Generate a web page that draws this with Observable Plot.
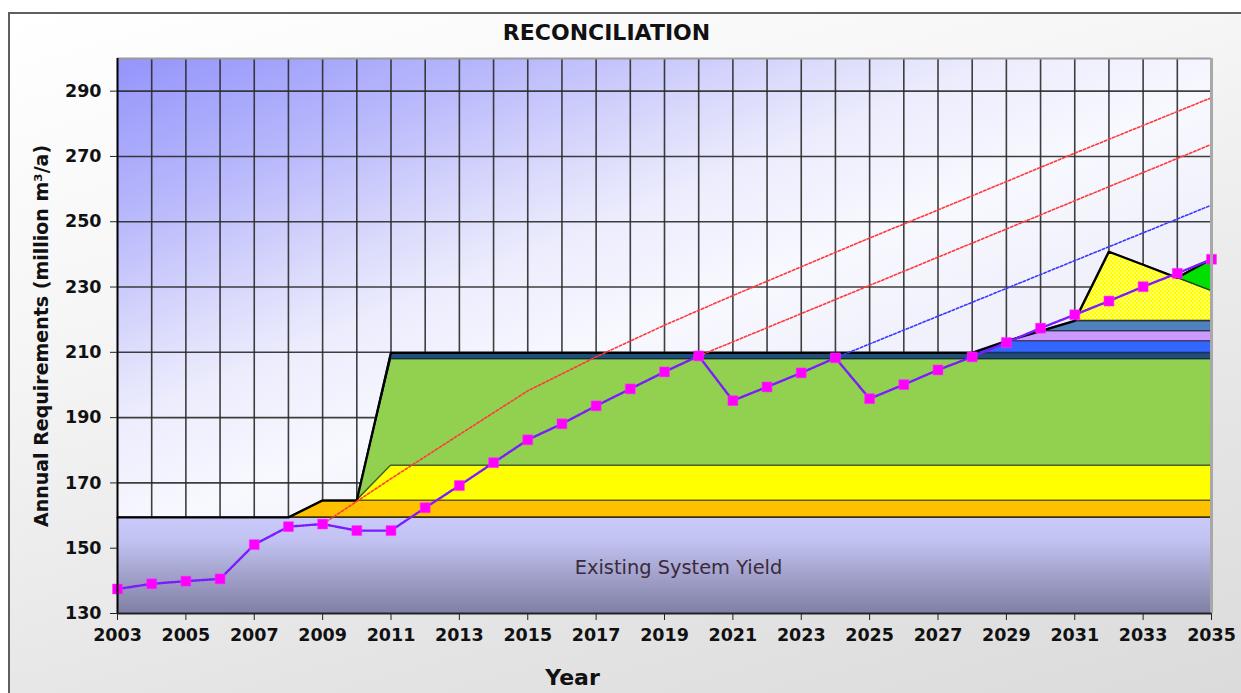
<!DOCTYPE html>
<html><head><meta charset="utf-8">
<script src="https://cdn.jsdelivr.net/npm/d3@7"></script>
<script src="https://cdn.jsdelivr.net/npm/@observablehq/plot@0.6"></script>
<style>
html,body{margin:0;padding:0;background:#fff;width:1241px;height:693px;overflow:hidden;}
#box{position:absolute;left:8px;top:12px;width:1300px;height:720px;border:2px solid #5f5f5f;
 background:linear-gradient(165deg,#ffffff 0%,#f6f6f6 30%,#e4e4e4 70%,#d9d9d9 100%);}
#chart{position:absolute;left:0;top:0;}
</style></head>
<body><div id="box"></div><div id="chart"></div>
<script>
const years = [2003,2004,2005,2006,2007,2008,2009,2010,2011,2012,2013,2014,2015,2016,2017,2018,2019,
  2020,2021,2022,2023,2024,2025,2026,2027,2028,2029,2030,2031,2032,2033,2034,2035];
const xTickYears = [2003,2005,2007,2009,2011,2013,2015,2017,2019,2021,2023,2025,2027,2029,2031,2033,2035];
const yTicks = [130,150,170,190,210,230,250,270,290];

// Annual requirements (demand), million m3/a
const demand = [137.5,139.1,139.9,140.6,151.1,156.6,157.4,155.4,155.4,162.4,169.2,176.2,183.2,188.1,193.6,198.8,204.0,
  208.9,195.2,199.4,203.7,208.3,195.8,200.1,204.6,208.6,213.0,217.4,221.5,225.7,230.1,234.2,238.5];

// Supply layers (thickness per year, stacked)
const existingYield = [159.4,159.4,159.4,159.4,159.4,159.4,159.4,159.4,159.4,159.4,159.4,159.4,159.4,159.4,159.4,159.4,159.4,
  159.4,159.4,159.4,159.4,159.4,159.4,159.4,159.4,159.4,159.4,159.4,159.4,159.4,159.4,159.4,159.4];
const orangeScheme = [0,0,0,0,0,0,5.2,5.2,5.2,5.2,5.2,5.2,5.2,5.2,5.2,5.2,5.2,
  5.2,5.2,5.2,5.2,5.2,5.2,5.2,5.2,5.2,5.2,5.2,5.2,5.2,5.2,5.2,5.2];
const yellowScheme = [0,0,0,0,0,0,0,0,10.7,10.7,10.7,10.7,10.7,10.7,10.7,10.7,10.7,
  10.7,10.7,10.7,10.7,10.7,10.7,10.7,10.7,10.7,10.7,10.7,10.7,10.7,10.7,10.7,10.7];
const greenScheme = [0,0,0,0,0,0,0,0,32.6,32.6,32.6,32.6,32.6,32.6,32.6,32.6,32.6,
  32.6,32.6,32.6,32.6,32.6,32.6,32.6,32.6,32.6,32.6,32.6,32.6,32.6,32.6,32.6,32.6];
const navyScheme = [0,0,0,0,0,0,0,0,1.9,1.9,1.9,1.9,1.9,1.9,1.9,1.9,1.9,
  1.9,1.9,1.9,1.9,1.9,1.9,1.9,1.9,1.9,1.9,1.9,1.9,1.9,1.9,1.9,1.9];
const blueScheme = [0,0,0,0,0,0,0,0,0,0,0,0,0,0,0,0,0,
  0,0,0,0,0,0,0,0,0,3.6,3.6,3.6,3.6,3.6,3.6,3.6];
const lavenderScheme = [0,0,0,0,0,0,0,0,0,0,0,0,0,0,0,0,0,
  0,0,0,0,0,0,0,0,0,0,3.1,3.1,3.1,3.1,3.1,3.1];
const steelScheme = [0,0,0,0,0,0,0,0,0,0,0,0,0,0,0,0,0,
  0,0,0,0,0,0,0,0,0,0,0,3.1,3.1,3.1,3.1,3.1];
const dottedScheme = [0,0,0,0,0,0,0,0,0,0,0,0,0,0,0,0,0,
  0,0,0,0,0,0,0,0,0,0,0,0,21.2,17.2,13.2,9.2];
const brightGreenScheme = [0,0,0,0,0,0,0,0,0,0,0,0,0,0,0,0,0,
  0,0,0,0,0,0,0,0,0,0,0,0,0,0,0,9.8];

// Projection lines
const highProjYears = [2009,2011,2013,2015,2017,2019,2021,2023,2025,2027,2029,2031,2033,2035];
const highProj = [157.4,171.3,184.8,198.2,208.6,218.3,227.4,236.2,245.0,253.6,262.3,271.0,279.5,288.0];
const midProjYears = [2020,2035];
const midProj = [208.9,273.7];
const lowProjYears = [2024,2035];
const lowProj = [208.3,255.1];

const layerSpecs = [
  {values: existingYield, fill: "url(#esyGrad)", stroke: "#111"},
  {values: orangeScheme, fill: "#ffc000", stroke: "#3a3000"},
  {values: yellowScheme, fill: "#ffff00", stroke: "#5f5f10"},
  {values: greenScheme, fill: "#92d050", stroke: "#3f5a25"},
  {values: navyScheme, fill: "#1f4e79", stroke: "#142c44"},
  {values: blueScheme, fill: "#3366ff", stroke: "#1c2f66"},
  {values: lavenderScheme, fill: "#cc99ff", stroke: "#4a3a66"},
  {values: steelScheme, fill: "#4f81bd", stroke: "#25384f"},
  {values: dottedScheme, fill: "url(#dots)", stroke: "#333"},
  {values: brightGreenScheme, fill: "#00e000", stroke: "#1a4a1a"}
];

let base = years.map(() => 0);
const layerMarks = [];
for (const spec of layerSpecs) {
  const i0 = spec.values.findIndex(v => v > 0);
  const start = Math.max(0, i0 - 1);
  const rows = [];
  for (let i = start; i < years.length; i++) {
    rows.push({year: years[i], lo: base[i], hi: base[i] + spec.values[i]});
  }
  base = base.map((b, i) => b + spec.values[i]);
  layerMarks.push(Plot.areaY(rows, {x: "year", y1: "lo", y2: "hi", fill: spec.fill,
    stroke: spec.stroke, strokeWidth: 1.3, clip: true}));
}
const envelope = years.map((y, i) => ({year: y, top: base[i]}));
const demandRows = years.map((y, i) => ({year: y, value: demand[i]}));
const toRows = (xs, vs) => xs.map((x, i) => ({year: x, value: vs[i]}));

const plot = Plot.plot({
  width: 1241, height: 693,
  marginLeft: 117, marginRight: 30, marginTop: 58, marginBottom: 80,
  x: {domain: [2003, 2035]},
  y: {domain: [130, 300]},
  style: {fontFamily: "'DejaVu Sans', Verdana, sans-serif", fontSize: "17.5px", fontWeight: "bold",
    color: "#111", background: "transparent", overflow: "visible"},
  marks: [
    Plot.frame({fill: "url(#bgGrad)", stroke: null}),
    Plot.gridX(years.slice(1, -1), {stroke: "#2a2a2a", strokeOpacity: 0.9, strokeWidth: 1.6}),
    Plot.gridY(yTicks.slice(1), {stroke: "#2a2a2a", strokeOpacity: 0.9, strokeWidth: 1.6}),
    ...layerMarks,
    Plot.line(envelope, {x: "year", y: "top", stroke: "#000", strokeWidth: 2.2}),
    Plot.line(toRows(highProjYears, highProj), {x: "year", y: "value", stroke: "#ff3a3a", strokeWidth: 1.6, strokeDasharray: "2.5 2"}),
    Plot.line(toRows(midProjYears, midProj), {x: "year", y: "value", stroke: "#ff3a3a", strokeWidth: 1.6, strokeDasharray: "2.5 2"}),
    Plot.line(toRows(lowProjYears, lowProj), {x: "year", y: "value", stroke: "#3a3aff", strokeWidth: 1.6, strokeDasharray: "2.5 2"}),
    Plot.line(demandRows, {x: "year", y: "value", stroke: "#ff00ff", strokeWidth: 1}),
    Plot.line(demandRows, {x: "year", y: "value", stroke: "#7a1cff", strokeWidth: 2.4, strokeDasharray: "1.6 1.4"}),
    Plot.dot(demandRows, {x: "year", y: "value", symbol: "square", r: 5.6, fill: "#ff00ff", stroke: "#ff33ff", strokeWidth: 0.5}),
    Plot.text(["Existing System Yield"], {frameAnchor: "bottom", lineAnchor: "middle", dx: 14, dy: -46, fontSize: 19.4, fontWeight: "normal", fill: "#3a2a3a"}),
    Plot.ruleY([300], {stroke: "#9a9a9a", strokeWidth: 2}),
    Plot.ruleX([2035], {stroke: "#a8a8a8", strokeWidth: 3}),
    Plot.ruleX([2003], {stroke: "#000", strokeWidth: 2}),
    Plot.ruleY([130], {stroke: "#222", strokeWidth: 2}),
    Plot.axisY({ticks: yTicks, tickSize: 7, tickPadding: 9, tickFormat: d => String(d), label: null, stroke: "#222", fontSize: 17.5}),
    Plot.axisX({ticks: xTickYears, tickSize: 7, tickPadding: 8, tickFormat: d => String(d), label: null, stroke: "#222", fontSize: 17.5}),
    Plot.text(["RECONCILIATION"], {frameAnchor: "top", lineAnchor: "middle", dx: -58, dy: -26, fontSize: 22, fontWeight: "bold", fill: "#111", style: "letter-spacing:1px"}),
    Plot.text(["Annual Requirements (million m³/a)"], {frameAnchor: "left", textAnchor: "middle", lineAnchor: "middle", dx: -76, rotate: -90, fontSize: 19, fontWeight: "bold", fill: "#111"}),
    Plot.text(["Year"], {frameAnchor: "bottom", lineAnchor: "middle", dx: -92, dy: 64, fontSize: 22, fontWeight: "bold", fill: "#111"})
  ]
});

const yScale = plot.scale("y");
const defs = d3.select(plot).insert("defs", ":first-child");
const bg = defs.append("linearGradient").attr("id", "bgGrad").attr("x1", 0).attr("y1", 0).attr("x2", 0.531).attr("y2", 0.657);
[[0, "#9494fb"], [0.27, "#b8b8fc"], [0.33, "#c2c2fc"], [0.49, "#dcdcfc"], [0.6, "#ececfd"], [0.8, "#f8f8ff"], [1, "#f1f1fc"]]
  .forEach(([o, c]) => bg.append("stop").attr("offset", o).attr("stop-color", c));
const esy = defs.append("linearGradient").attr("id", "esyGrad").attr("gradientUnits", "userSpaceOnUse")
  .attr("x1", 0).attr("x2", 0).attr("y1", yScale.apply(159.4)).attr("y2", yScale.apply(130));
[[0, "#cbcbfb"], [0.25, "#c2c2f2"], [0.6, "#a2a2cc"], [1, "#8080a4"]]
  .forEach(([o, c]) => esy.append("stop").attr("offset", o).attr("stop-color", c));
const pat = defs.append("pattern").attr("id", "dots").attr("patternUnits", "userSpaceOnUse").attr("width", 4).attr("height", 4);
pat.append("rect").attr("width", 4).attr("height", 4).attr("fill", "#ffff00");
pat.append("circle").attr("cx", 1).attr("cy", 1).attr("r", 0.75).attr("fill", "#ffffff");
pat.append("circle").attr("cx", 3).attr("cy", 3).attr("r", 0.75).attr("fill", "#ffffff");

document.getElementById("chart").appendChild(plot);
</script>
</body></html>
